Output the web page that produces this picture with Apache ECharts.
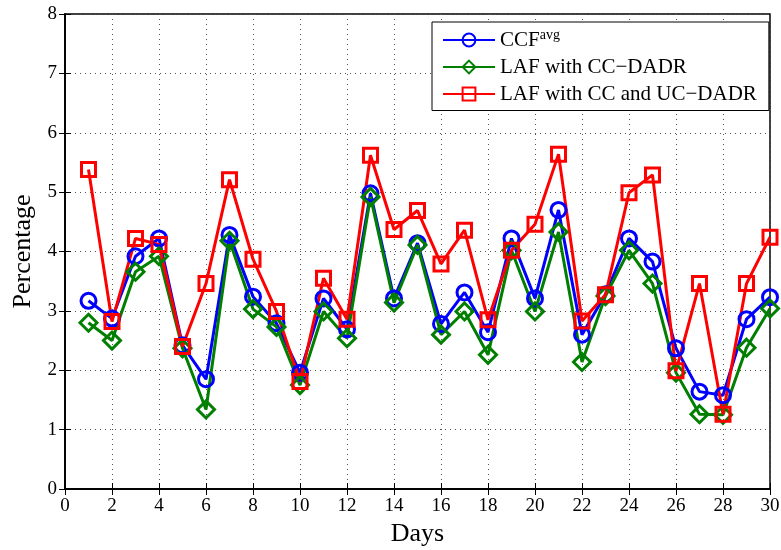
<!DOCTYPE html>
<html>
<head>
<meta charset="utf-8">
<script src="https://cdn.jsdelivr.net/npm/echarts@6/dist/echarts.min.js"></script>
<style>
  html, body { margin: 0; padding: 0; background: #fff; }
  #chart { width: 781px; height: 550px; }
</style>
</head>
<body>
<div id="chart"></div>
<script>
// Day index 1..30
const days = [1,2,3,4,5,6,7,8,9,10,11,12,13,14,15,16,17,18,19,20,21,22,23,24,25,26,27,28,29,30];

// Percentage per day for each scheme
const ccfAvg = [3.17,2.87,3.92,4.22,2.42,1.85,4.28,3.24,2.79,1.96,3.21,2.69,4.98,3.21,4.14,
                2.78,3.31,2.64,4.22,3.21,4.70,2.60,3.28,4.22,3.83,2.37,1.64,1.58,2.86,3.23];
const lafCC  = [2.80,2.50,3.66,3.92,2.37,1.34,4.18,3.03,2.73,1.75,2.99,2.54,4.92,3.14,4.11,
                2.60,2.99,2.26,4.02,2.99,4.33,2.14,3.25,4.02,3.46,1.96,1.26,1.25,2.38,3.04];
const lafCCUC = [5.38,2.82,4.22,4.12,2.40,3.46,5.21,3.87,2.99,1.81,3.55,2.86,5.62,4.37,4.69,
                 3.79,4.36,2.85,4.02,4.46,5.64,2.83,3.27,4.99,5.29,1.99,3.46,1.26,3.46,4.24];

const seriesNames = ['CCF^avg', 'LAF with CC\u2212DADR', 'LAF with CC and UC\u2212DADR'];
const xTicks = { min: 0, max: 30, interval: 2 };
const yTicks = { min: 0, max: 8, interval: 1 };

const font = 'Liberation Serif';
const pair = arr => arr.map((v, i) => [days[i], v]);

function lineSeries(name, data, color, symbol, size) {
  return {
    name: name,
    type: 'line',
    data: pair(data),
    symbol: symbol,
    symbolSize: size,
    showSymbol: true,
    lineStyle: { color: color, width: 3 },
    itemStyle: { color: 'rgba(255,255,255,0)', borderColor: color, borderWidth: 3 },
    emphasis: { disabled: true },
    animation: false
  };
}

const chart = echarts.init(document.getElementById('chart'), null, { renderer: 'canvas' });

const gridLine = { show: true, lineStyle: { color: '#555', type: [1, 4], width: 1 } };
const tick = { show: true, inside: true, length: 6, lineStyle: { color: '#000' } };

chart.setOption({
  backgroundColor: '#fff',
  textStyle: { fontFamily: font },
  grid: {
    left: 65, right: 11, top: 14, bottom: 61,
    outerBoundsMode: 'none', containLabel: false,
    show: true, borderColor: '#000', borderWidth: 1.5, backgroundColor: 'transparent'
  },
  legend: {
    orient: 'vertical',
    left: 432,
    top: 22,
    padding: [6, 12, 6, 10],
    itemGap: 6,
    itemWidth: 52,
    itemHeight: 16,
    backgroundColor: '#fff',
    borderColor: '#000',
    borderWidth: 1,
    borderRadius: 0,
    data: seriesNames,
    formatter: function (name) {
      if (name === seriesNames[0]) return '{b|CCF}{s|avg}';
      return '{b|' + name + '}';
    },
    textStyle: {
      fontFamily: font,
      color: '#000',
      fontSize: 21,
      rich: {
        b: { fontFamily: font, fontSize: 21, color: '#000' },
        s: { fontFamily: font, fontSize: 14, color: '#000', padding: [0, 0, 10, 0] }
      }
    }
  },
  xAxis: [{
    type: 'value',
    min: xTicks.min, max: xTicks.max, interval: xTicks.interval,
    name: 'Days',
    nameLocation: 'middle',
    nameGap: 30,
    nameTextStyle: { fontFamily: font, fontSize: 26, color: '#000' },
    axisLine: { show: true, lineStyle: { color: '#000', width: 1.5 } },
    axisTick: tick,
    axisLabel: { fontFamily: font, fontSize: 19, color: '#000', margin: 8 },
    splitLine: gridLine
  }, {
    type: 'value', position: 'top',
    min: xTicks.min, max: xTicks.max, interval: xTicks.interval,
    axisLine: { show: true, lineStyle: { color: '#000', width: 1.5 } },
    axisTick: tick, axisLabel: { show: false }, splitLine: { show: false }
  }],
  yAxis: [{
    type: 'value',
    min: yTicks.min, max: yTicks.max, interval: yTicks.interval,
    name: 'Percentage',
    nameLocation: 'middle',
    nameGap: 22,
    nameTextStyle: { fontFamily: font, fontSize: 26, color: '#000' },
    axisLine: { show: true, lineStyle: { color: '#000', width: 1.5 } },
    axisTick: tick,
    axisLabel: { fontFamily: font, fontSize: 19, color: '#000', margin: 8 },
    splitLine: gridLine
  }, {
    type: 'value', position: 'right',
    min: yTicks.min, max: yTicks.max, interval: yTicks.interval,
    axisLine: { show: true, lineStyle: { color: '#000', width: 1.5 } },
    axisTick: tick, axisLabel: { show: false }, splitLine: { show: false }
  }],
  series: [
    lineSeries(seriesNames[0], ccfAvg, '#0000ff', 'circle', 15),
    lineSeries(seriesNames[1], lafCC, '#007f00', 'diamond', 17),
    lineSeries(seriesNames[2], lafCCUC, '#ff0000', 'rect', 14)
  ]
});
</script>
</body>
</html>
